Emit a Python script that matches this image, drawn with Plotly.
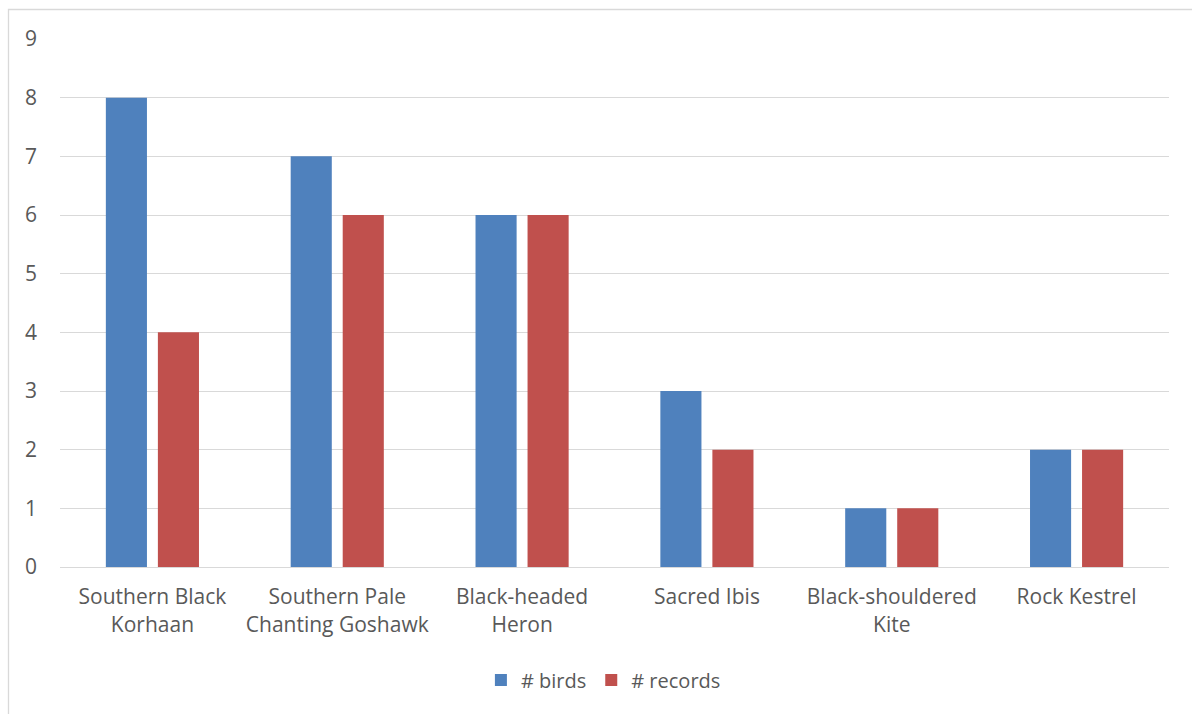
import plotly.graph_objects as go

species = ["Southern Black<br>Korhaan", "Southern Pale<br>Chanting Goshawk", "Black-headed<br>Heron",
           "Sacred Ibis", "Black-shouldered<br>Kite", "Rock Kestrel"]
birds = [8, 7, 6, 3, 1, 2]
records = [4, 6, 6, 2, 1, 2]

W, H = 1192, 714
L, R, T, B = 60, 23, 39, 147
pw, ph = W - L - R, H - T - B

FONT = "Open Sans"
TXT = "#595959"
GRID = "#D9D9D9"
FS = 21

fig = go.Figure()
fig.add_trace(go.Bar(name="# birds", x=species, y=birds, marker_color="#4F81BD", marker_line_width=0))
fig.add_trace(go.Bar(name="# records", x=species, y=records, marker_color="#C0504D", marker_line_width=0))

# outer chart frame (cropped on the right and bottom)
fig.add_shape(type="rect", xref="paper", yref="paper",
              x0=(8.5 - L) / pw, x1=(W + 20 - L) / pw,
              y0=-(H + 20 - T - ph) / ph, y1=1 + (T - 9.5) / ph,
              line=dict(color=GRID, width=1.3), layer="below")

fig.update_layout(
    width=W, height=H,
    margin=dict(l=L, r=R, t=T, b=B),
    paper_bgcolor="white", plot_bgcolor="white",
    barmode="group", bargap=0.437, bargroupgap=0.21,
    font=dict(family=FONT, size=FS, color=TXT),
    showlegend=True,
    legend=dict(orientation="h", x=0.49, xanchor="center", y=-(680 - T - ph) / ph, yanchor="middle",
                font=dict(family=FONT, size=20, color=TXT), itemwidth=30, traceorder="normal"),
    xaxis=dict(showgrid=False, showline=True, linecolor=GRID, linewidth=1.3, ticks="",
               tickfont=dict(family=FONT, size=FS, color=TXT), ticklabelstandoff=11),
    yaxis=dict(range=[0, 9], dtick=1, showgrid=True, gridcolor=GRID, gridwidth=1.3,
               zeroline=True, zerolinecolor=GRID, zerolinewidth=1.3, showline=False, ticks="",
               tickfont=dict(family=FONT, size=FS, color=TXT), ticklabelstandoff=22),
)

fig.write_html("out.html")
